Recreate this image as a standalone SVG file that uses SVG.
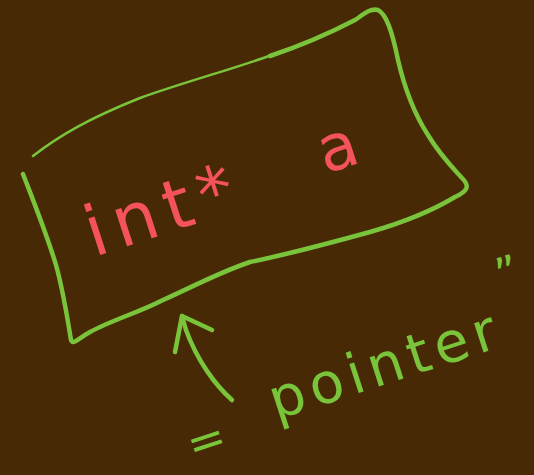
<svg xmlns="http://www.w3.org/2000/svg" width="534" height="475" viewBox="0 0 534 475">
<style>
.g{fill:none;stroke:#79c43a;stroke-linecap:round;stroke-linejoin:round}
.red{fill:#f5535a;font-family:"DejaVu Sans",sans-serif}
.grn{fill:#79c43a;font-family:"DejaVu Sans",sans-serif}
</style>
<rect width="534" height="475" fill="#472a05"/>
<g id="box">
<path class="g" stroke-width="2.5" d="M33,156 C60,135 90,118 140,98 C190,80 238,68 280,52"/>
<path class="g" stroke-width="4.5" d="M270,56 C300,46 330,33 355,20 C364,14 370,8 378,10 C386,14 392,30 398,60 C405,90 415,115 428,135 C440,155 452,167 462,178 C470,186 468,191 455,197 C430,212 405,222 370,232 C330,243 290,254 250,262 C220,272 190,288 163,300 C140,312 112,320 90,332 C76,340 73,345 71,340 C67,315 63,290 56,265 C47,235 35,205 23,174"/>
</g>
<g id="label-int">
<text class="red" transform="translate(94,257) rotate(-18)" font-size="70" letter-spacing="9">int*</text>
</g>
<g id="label-a">
<text class="red" transform="translate(344,168) rotate(-18)" font-size="64" text-anchor="middle">a</text>
</g>
<g id="connectors">
<path class="g" stroke-width="4.5" d="M232,400 C215,385 197,360 186,330 L182,316"/>
<path class="g" stroke-width="4.5" d="M175,352 L182,316 L212,330"/>
</g>
<g id="label-pointer">
<text class="grn" transform="translate(211,455) rotate(-18)" font-size="46" text-anchor="middle">=</text>
<text class="grn" transform="translate(276,420) rotate(-18)" font-size="56" letter-spacing="6">pointer</text>
<text class="grn" transform="translate(512,287) rotate(-18)" font-size="44" text-anchor="middle">”</text>
</g>
</svg>
